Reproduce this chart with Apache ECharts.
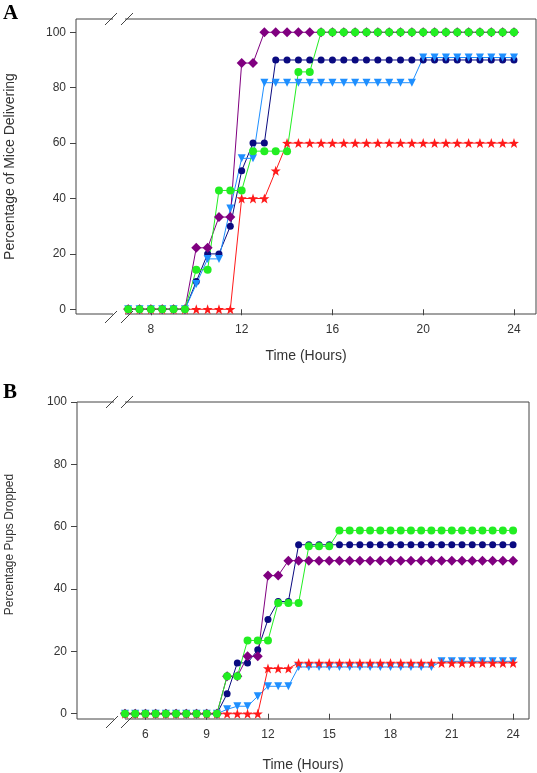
<!DOCTYPE html>
<html><head><meta charset="utf-8">
<script src="https://cdn.jsdelivr.net/npm/echarts@6/dist/echarts.min.js"></script>
<style>html,body{margin:0;padding:0;background:#fff}#c{width:537px;height:773px}</style>
</head><body><div id="c"></div>
<script>
// ---------- Panel A data (Percentage of Mice Delivering) ----------
const hoursA = [7,7.5,8,8.5,9,9.5,10,10.5,11,11.5,12,12.5,13,13.5,14,14.5,15,15.5,16,16.5,17,17.5,18,18.5,19,19.5,20,20.5,21,21.5,22,22.5,23,23.5,24];
const purpleA = [0,0,0,0,0,0,22.2,22.2,33.3,33.3,88.9,88.9,100,100,100,100,100,100,100,100,100,100,100,100,100,100,100,100,100,100,100,100,100,100,100];
const navyA   = [0,0,0,0,0,0,10,20,20,30,50,60,60,90,90,90,90,90,90,90,90,90,90,90,90,90,90,90,90,90,90,90,90,90,90];
const blueA   = [0,0,0,0,0,0,9.1,18.2,18.2,36.4,54.5,54.5,81.8,81.8,81.8,81.8,81.8,81.8,81.8,81.8,81.8,81.8,81.8,81.8,81.8,81.8,90.9,90.9,90.9,90.9,90.9,90.9,90.9,90.9,90.9];
const redA    = [0,0,0,0,0,0,0,0,0,0,40,40,40,50,60,60,60,60,60,60,60,60,60,60,60,60,60,60,60,60,60,60,60,60,60];
const greenA  = [0,0,0,0,0,0,14.3,14.3,42.9,42.9,42.9,57.1,57.1,57.1,57.1,85.7,85.7,100,100,100,100,100,100,100,100,100,100,100,100,100,100,100,100,100,100];
const xTicksA = [8,12,16,20,24];
const yTicksA = [0,20,40,60,80,100];

// ---------- Panel B data (Percentage Pups Dropped) ----------
const hoursB = [5,5.5,6,6.5,7,7.5,8,8.5,9,9.5,10,10.5,11,11.5,12,12.5,13,13.5,14,14.5,15,15.5,16,16.5,17,17.5,18,18.5,19,19.5,20,20.5,21,21.5,22,22.5,23,23.5,24];
const purpleB = [0,0,0,0,0,0,0,0,0,0,12,12,18.4,18.4,44.3,44.3,49.1,49.1,49.1,49.1,49.1,49.1,49.1,49.1,49.1,49.1,49.1,49.1,49.1,49.1,49.1,49.1,49.1,49.1,49.1,49.1,49.1,49.1,49.1];
const navyB   = [0,0,0,0,0,0,0,0,0,0,6.4,16.3,16.3,20.5,30.2,36,36,54.2,54.2,54.2,54.2,54.2,54.2,54.2,54.2,54.2,54.2,54.2,54.2,54.2,54.2,54.2,54.2,54.2,54.2,54.2,54.2,54.2,54.2];
const blueB   = [0,0,0,0,0,0,0,0,0,0,1.4,2.4,2.4,5.6,8.8,8.8,8.8,15,15,15,15,15,15,15,15,15,15,15,15,15,15,16.8,16.8,16.8,16.8,16.8,16.8,16.8,16.8];
const redB    = [0,0,0,0,0,0,0,0,0,0,0,0,0,0,14.5,14.5,14.5,16.3,16.3,16.3,16.3,16.3,16.3,16.3,16.3,16.3,16.3,16.3,16.3,16.3,16.3,16.3,16.3,16.3,16.3,16.3,16.3,16.3,16.3];
const greenB  = [0,0,0,0,0,0,0,0,0,0,12,12,23.5,23.5,23.5,35.5,35.5,35.5,53.7,53.7,53.7,58.8,58.8,58.8,58.8,58.8,58.8,58.8,58.8,58.8,58.8,58.8,58.8,58.8,58.8,58.8,58.8,58.8,58.8];
const xTicksB = [6,9,12,15,18,21,24];
const yTicksB = [0,20,40,60,80,100];

// ---------- styling / layout ----------
const COL = {purple:'#800080', navy:'#0a0a80', blue:'#1e8fff', red:'#ff1a1a', green:'#22ee22'};
const STAR = 'path://M0,-10L2.35,-3.24L9.51,-3.09L3.8,1.24L5.88,8.09L0,4L-5.88,8.09L-3.8,1.24L-9.51,-3.09L-2.35,-3.24Z';
const GA = {left:76, top:19, width:460, height:295};
const GB = {left:77, top:402, width:452, height:317};
const AXC = '#444', TXT = '#333', FONT = 'Liberation Sans, Arial, sans-serif';

function pairs(xs, ys){ return xs.map((x,i)=>[x, ys[i]]); }
function mk(name, xs, ys, idx, color, symbol, size, rot){
  return {name, type:'line', xAxisIndex:idx, yAxisIndex:idx, data:pairs(xs,ys),
    symbol, symbolSize:size, symbolRotate:rot||0, showSymbol:true, animation:false,
    itemStyle:{color}, lineStyle:{color, width:1}, emphasis:{disabled:true}, silent:true};
}
function xAx(idx, min, max, ticks, name, gap){
  return {type:'value', gridIndex:idx, min, max, name, nameLocation:'middle', nameGap:gap,
    nameTextStyle:{fontSize:14, color:TXT, fontFamily:FONT},
    axisLine:{show:false}, splitLine:{show:false},
    axisTick:{show:true, customValues:ticks, length:6, inside:false, lineStyle:{color:AXC}},
    axisLabel:{customValues:ticks, fontSize:12, color:TXT, margin:10, fontFamily:FONT}};
}
function yAx(idx, min, max, ticks, name, gap, fs, pad){
  return {type:'value', gridIndex:idx, min, max, name, nameLocation:'middle', nameGap:gap, nameRotate:90,
    nameTextStyle:{fontSize:fs, color:TXT, fontFamily:FONT, padding:pad},
    axisLine:{show:false}, splitLine:{show:false},
    axisTick:{show:true, customValues:ticks, length:6, inside:false, lineStyle:{color:AXC}},
    axisLabel:{customValues:ticks, fontSize:12, color:TXT, margin:10, fontFamily:FONT}};
}

function breakMarks(g, offs){
  const els = [];
  const xs = [g.left+offs[0], g.left+offs[1]];
  [[g.top,0],[g.top+g.height,3]].forEach(([y,dy])=>{
    els.push({type:'rect', z:1, shape:{x:xs[0]+2, y:y-2, width:xs[1]-xs[0]-4, height:4}, style:{fill:'#fff'}});
    xs.forEach(cx=>{
      els.push({type:'line', z:1, shape:{x1:cx-6, y1:y+dy+6, x2:cx+6, y2:y+dy-6}, style:{stroke:AXC, lineWidth:1}});
    });
  });
  return els;
}

const chart = echarts.init(document.getElementById('c'), null, {renderer:'canvas'});
chart.setOption({
  animation:false,
  backgroundColor:'#fff',
  grid:[
    Object.assign({show:true, borderColor:AXC, borderWidth:1, backgroundColor:'transparent', outerBoundsMode:'none'}, GA),
    Object.assign({show:true, borderColor:AXC, borderWidth:1, backgroundColor:'transparent', outerBoundsMode:'none'}, GB)
  ],
  xAxis:[ xAx(0, 4.7, 24.97, xTicksA, 'Time (Hours)', 35), xAx(1, 2.65, 24.78, xTicksB, 'Time (Hours)', 39) ],
  yAxis:[ yAx(0, -1.7, 104.8, yTicksA, 'Percentage of Mice Delivering', 59, 14, [0,0,0,0]),
          yAx(1, -1.7, 100, yTicksB, 'Percentage Pups Dropped', 61, 12, [0,0,0,32]) ],
  series:[
    mk('navyA', hoursA, navyA, 0, COL.navy, 'circle', 7),
    mk('blueA', hoursA, blueA, 0, COL.blue, 'triangle', 8, 180),
    mk('redA', hoursA, redA, 0, COL.red, STAR, 10),
    mk('purpleA', hoursA, purpleA, 0, COL.purple, 'diamond', 10),
    mk('greenA', hoursA, greenA, 0, COL.green, 'circle', 8),
    mk('navyB', hoursB, navyB, 1, COL.navy, 'circle', 7),
    mk('blueB', hoursB, blueB, 1, COL.blue, 'triangle', 8, 180),
    mk('redB', hoursB, redB, 1, COL.red, STAR, 10),
    mk('purpleB', hoursB, purpleB, 1, COL.purple, 'diamond', 10),
    mk('greenB', hoursB, greenB, 1, COL.green, 'circle', 8)
  ],
  graphic:[
    {type:'text', left:3, top:3, style:{text:'A', font:'bold 21px "Liberation Serif", "Times New Roman", serif', fill:'#000'}},
    {type:'text', left:3, top:382, style:{text:'B', font:'bold 21px "Liberation Serif", "Times New Roman", serif', fill:'#000'}},
    ...breakMarks(GA, [35, 51]),
    ...breakMarks(GB, [35, 50])
  ]
});
</script>
</body></html>
